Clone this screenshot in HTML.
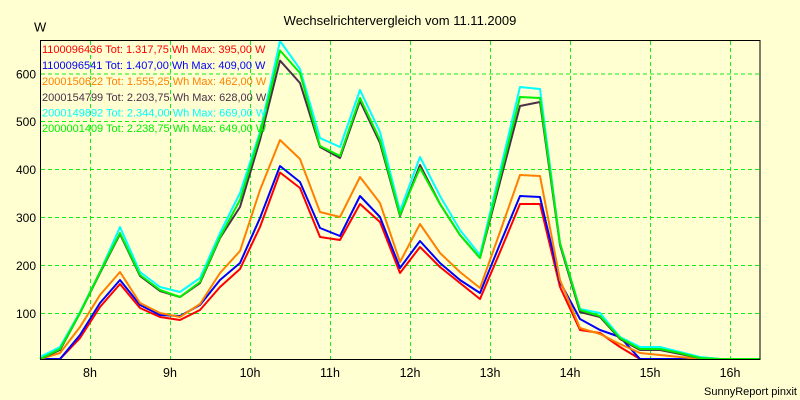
<!DOCTYPE html>
<html><head><meta charset="utf-8"><style>
html,body{margin:0;padding:0;background:#FFFFD2;}
svg{display:block;}
text{font-family:"Liberation Sans",Arial,sans-serif;}
</style></head><body>
<svg width="800" height="400" viewBox="0 0 800 400" xmlns="http://www.w3.org/2000/svg">
<rect x="0" y="0" width="800" height="400" fill="#FFFFD2"/>
<text x="400" y="25" font-size="13" text-anchor="middle" fill="#000">Wechselrichtervergleich vom 11.11.2009</text>
<text x="34" y="31.5" font-size="13" fill="#000">W</text>
<g stroke="#11ee11" stroke-width="1" stroke-dasharray="4,3" fill="none">
<line x1="90.5" y1="41" x2="90.5" y2="359"/>
<line x1="170.5" y1="41" x2="170.5" y2="359"/>
<line x1="250.5" y1="41" x2="250.5" y2="359"/>
<line x1="330.5" y1="41" x2="330.5" y2="359"/>
<line x1="410.5" y1="41" x2="410.5" y2="359"/>
<line x1="490.5" y1="41" x2="490.5" y2="359"/>
<line x1="570.5" y1="41" x2="570.5" y2="359"/>
<line x1="650.5" y1="41" x2="650.5" y2="359"/>
<line x1="730.5" y1="41" x2="730.5" y2="359"/>
<line x1="41" y1="313.5" x2="760" y2="313.5"/>
<line x1="41" y1="265.5" x2="760" y2="265.5"/>
<line x1="41" y1="217.5" x2="760" y2="217.5"/>
<line x1="41" y1="169.5" x2="760" y2="169.5"/>
<line x1="41" y1="121.5" x2="760" y2="121.5"/>
<line x1="41" y1="74" x2="760" y2="74"/>
</g>
<g font-size="12" fill="#000" text-anchor="end">
<text x="36" y="78.5">600</text>
<text x="36" y="126">500</text>
<text x="36" y="174">400</text>
<text x="36" y="222">300</text>
<text x="36" y="270">200</text>
<text x="36" y="318">100</text>
</g>
<g font-size="12.5" fill="#000" text-anchor="middle">
<text x="90" y="377">8h</text>
<text x="170" y="377">9h</text>
<text x="250" y="377">10h</text>
<text x="330" y="377">11h</text>
<text x="410" y="377">12h</text>
<text x="490" y="377">13h</text>
<text x="570" y="377">14h</text>
<text x="650" y="377">15h</text>
<text x="730" y="377">16h</text>
</g>
<text x="797" y="395" font-size="11" text-anchor="end" fill="#000">SunnyReport pinxit</text>
<g fill="none" stroke-width="2" stroke-linejoin="round">
<polyline stroke="#ff0000" points="40,359 60,359 80,338 100,307 120,284 140,308 160,317 180,320 200,310 220,287 240,269 260,227 280,172.5 300,188 320,237 340,240 360,204 380,222 400,273 420,247 440,267 460,283 480,299 500,252 520,204 540,204 560,287 580,330 600,333 620,347 640,359 660,359 680,359 700,359 720,359 740,359 760,359"/>
<polyline stroke="#0000ff" points="40,359 60,359 80,335 100,303 120,280 140,305 160,315 180,316 200,305 220,280 240,263 260,218 280,166 300,182 320,228 340,236 360,196 380,217 400,268 420,241 440,263 460,280 480,293 500,244 520,196 540,197 560,282 580,319 600,330 620,337 640,359 660,359 680,359 700,359 720,359 740,359 760,359"/>
<polyline stroke="#ff8000" points="40,359 60,353 80,327 100,295 120,272 140,303 160,313 180,317 200,304 220,273 240,251 260,190 280,140 300,159 320,212 340,217 360,177 380,203 400,262 420,224 440,253 460,272 480,288 500,232 520,175 540,176 560,280 580,328 600,334 620,344 640,353 660,355 680,357 700,359 720,359 740,359 760,359"/>
<polyline stroke="#4a3048" points="40,359 60,350 80,313 100,273 120,234 140,276 160,291 180,297 200,283 220,238 240,207 260,140 280,60.6 300,83 320,147 340,158 360,101 380,143 400,216 420,165 440,204 460,235 480,258 500,182 520,106 540,102 560,245 580,312 600,317 620,339 640,350 660,350 680,354 700,358 720,359 740,359 760,359"/>
<polyline stroke="#00ffff" points="40,357 60,347 80,312 100,272 120,227 140,272 160,287 180,292 200,278 220,233 240,193 260,132 280,41 300,69 320,138 340,147 360,90 380,132 400,211 420,157 440,196 460,230 480,255 500,171 520,87 540,89 560,243 580,309 600,313 620,337 640,347 660,347 680,352 700,357 720,359 740,359 760,359"/>
<polyline stroke="#00f000" points="40,359 60,349 80,313 100,272 120,233 140,275 160,290 180,297 200,282 220,237 240,200 260,135 280,50.5 300,73 320,146 340,156 360,98 380,140 400,215 420,168 440,204 460,235 480,258 500,177 520,97 540,98 560,243 580,310 600,316 620,338 640,349 660,349 680,353 700,358 720,359 740,359 760,359"/>
</g>
<rect x="40.5" y="40.5" width="719.5" height="319" fill="none" stroke="#000" stroke-width="1"/>
<g font-size="11">
<text x="42" y="53" fill="#ff0000">1100096436 Tot: 1.317,75 Wh Max: 395,00 W</text>
<text x="42" y="69" fill="#0000ff">1100096541 Tot: 1.407,00 Wh Max: 409,00 W</text>
<text x="42" y="85" fill="#ff8000">2000150622 Tot: 1.555,25 Wh Max: 462,00 W</text>
<text x="42" y="101" fill="#4a3048">2000154799 Tot: 2.203,75 Wh Max: 628,00 W</text>
<text x="42" y="116.5" fill="#00ffff">2000149892 Tot: 2.344,00 Wh Max: 669,00 W</text>
<text x="42" y="132" fill="#00f000">2000001409 Tot: 2.238,75 Wh Max: 649,00 W</text>
</g>
</svg>
</body></html>
